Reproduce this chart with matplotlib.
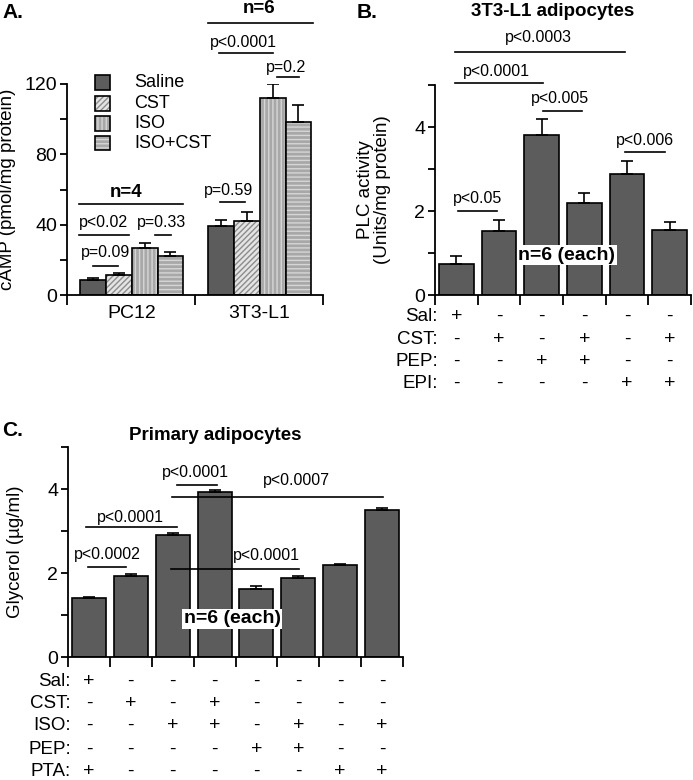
import matplotlib
matplotlib.use("Agg")
import matplotlib.pyplot as plt
from matplotlib.patches import Rectangle
from matplotlib.transforms import blended_transform_factory
import numpy as np

plt.rcParams['font.family'] = ['Liberation Sans', 'DejaVu Sans']

# ---- data ----
a_groups = ['PC12', '3T3-L1']
a_series = ['Saline', 'CST', 'ISO', 'ISO+CST']
a_pc12 = [8.3, 11.2, 26.5, 22.3]
a_pc12_err = [1.2, 1.2, 2.9, 2.1]
a_3t3 = [39.4, 42.2, 112.1, 98.5]
a_3t3_err = [3.4, 5.1, 7.9, 9.5]

b_vals = [0.73, 1.52, 3.81, 2.19, 2.87, 1.55]
b_err = [0.21, 0.26, 0.38, 0.23, 0.33, 0.18]
b_rows = ['Sal:', 'CST:', 'PEP:', 'EPI:']
b_signs = ['+-----', '-+-+-+', '--++--', '----++']

c_vals = [1.40, 1.94, 2.91, 3.93, 1.62, 1.88, 2.20, 3.50]
c_err = [0.03, 0.03, 0.04, 0.04, 0.06, 0.05, 0.02, 0.05]
c_rows = ['Sal:', 'CST:', 'ISO:', 'PEP:', 'PTA:']
c_signs = ['+-------', '-+-+----', '--++-+-+', '----++--', '+-----++']

DARK = '#5c5c5c'
PSIZE = 11.5
W, H = 693, 780
fig = plt.figure(figsize=(W / 100, H / 100), dpi=100)


def fy(py):
    return 1 - py / H


def style_axes(ax):
    for s in ['top', 'right']:
        ax.spines[s].set_visible(False)
    ax.spines['left'].set_linewidth(1.3)
    ax.spines['bottom'].set_linewidth(1.3)
    ax.tick_params(axis='both', direction='out', width=1.3, length=5,
                   labelsize=14, pad=2)
    ax.tick_params(axis='y', which='minor', direction='out', width=1.3, length=5)


def bracket(ax, x0, x1, y, text=None, tx=None, ty=None, size=PSIZE, bold=False):
    ax.plot([x0, x1], [y, y], color='black', lw=1.2, clip_on=False)
    if text:
        ax.text(tx, ty, text, ha='center', va='center', fontsize=size,
                fontweight='bold' if bold else 'normal', clip_on=False)


def hatched_bar(ax, x, h, w, face, hatch, hcol):
    ax.bar(x, h, w, color=face, edgecolor=hcol, hatch=hatch, lw=0)
    ax.bar(x, h, w, color='none', edgecolor='black', lw=1.2)


a_styles = [(DARK, None, None), ('#e4e4e4', '//////', '#8c8c8c'),
            ('#a8a8a8', '||||', '#d6d6d6'), ('#a8a8a8', '----', '#d6d6d6')]

# ---- panel A ----
axA = fig.add_axes([67 / W, fy(295), 256 / W, 211 / H])
style_axes(axA)
axA.set_xlim(0, 9.9)
axA.set_ylim(0, 120)
pos_pc12 = np.arange(1, 5)
pos_3t3 = np.arange(1, 5) + 4.95
for pos, vals, errs in [(pos_pc12, a_pc12, a_pc12_err), (pos_3t3, a_3t3, a_3t3_err)]:
    for i, (x, v, e) in enumerate(zip(pos, vals, errs)):
        face, hatch, hcol = a_styles[i]
        if hatch is None:
            axA.bar(x, v, 1.0, color=face, edgecolor='black', lw=1.2)
        else:
            hatched_bar(axA, x, v, 1.0, face, hatch, hcol)
        axA.errorbar(x, v, yerr=[[0], [e]], color='black', capsize=4, lw=1.2,
                     capthick=1.2)
axA.set_yticks([0, 40, 80, 120])
axA.set_yticks([20, 60, 100], minor=True)
axA.set_xticks([0, 4.95, 9.9])
axA.set_xticklabels([])
axA.tick_params(axis='x', length=7)
for x, g in zip([2.5, 7.45], a_groups):
    axA.text(x, -5.5, g, ha='center', va='top', fontsize=14)
axA.set_ylabel('cAMP (pmol/mg protein)', fontsize=13.5)
axA.yaxis.set_label_coords(-0.2, 0.5)
# legend
for i, name in enumerate(a_series):
    yc = [121, 109, 97.7, 86.4][i]
    face, hatch, hcol = a_styles[i]
    if hatch is None:
        axA.add_patch(Rectangle((1.08, yc - 4.2), 0.58, 8.4, facecolor=face,
                                edgecolor='black', lw=1.2, clip_on=False))
    else:
        axA.add_patch(Rectangle((1.08, yc - 4.2), 0.58, 8.4, facecolor=face,
                                edgecolor=hcol, hatch=hatch, lw=0, clip_on=False))
        axA.add_patch(Rectangle((1.08, yc - 4.2), 0.58, 8.4, facecolor='none',
                                edgecolor='black', lw=1.2, clip_on=False))
    axA.text(2.6, yc, name, ha='left', va='center', fontsize=13)
bracket(axA, 0.46, 4.5, 51.7, 'n=4', 2.3, 58.5, size=13.5, bold=True)
bracket(axA, 0.46, 2.39, 34, 'p<0.02', 1.42, 41.5)
bracket(axA, 3.39, 4.04, 34, 'p=0.33', 3.64, 41.5)
bracket(axA, 1.0, 1.96, 16.3, 'p=0.09', 1.5, 23.9)
bracket(axA, 5.46, 9.5, 154.5, 'n=6', 7.42, 163, size=13.5, bold=True)
bracket(axA, 5.88, 7.96, 137.5, 'p<0.0001', 6.81, 143.7)
bracket(axA, 8.12, 8.96, 124, 'p=0.2', 8.46, 129.5)
bracket(axA, 5.92, 6.89, 53, 'p=0.59', 6.23, 59.7)


def row_table(ax, rows, signs, ys):
    tr = blended_transform_factory(ax.transData, fig.transFigure)
    for r, s, py in zip(rows, signs, ys):
        ax.text(-0.43, fy(py), r, transform=tr, ha='right', va='center',
                fontsize=13.5, clip_on=False)
        for i, ch in enumerate(s):
            ax.text(i, fy(py), ch, transform=tr, ha='center', va='center',
                    fontsize=14, clip_on=False)


def gray_bars(ax, vals, errs):
    x = np.arange(len(vals))
    ax.bar(x, vals, 0.81, color=DARK, edgecolor='black', lw=1.2)
    ax.errorbar(x, vals, yerr=[np.zeros(len(vals)), errs], fmt='none',
                ecolor='black', capsize=4, elinewidth=1.2, capthick=1.2)
    ax.set_xlim(-0.5, len(vals) - 0.5)
    ax.set_xticks(np.arange(len(vals) + 1) - 0.5)
    ax.set_xticklabels([])
    ax.tick_params(axis='x', length=7)
    ax.set_ylim(0, 5)
    ax.set_yticks([0, 2, 4])
    ax.set_yticks([1, 3, 5], minor=True)


# ---- panel B ----
axB = fig.add_axes([435 / W, fy(295), 256 / W, 210 / H])
style_axes(axB)
gray_bars(axB, b_vals, b_err)
axB.set_ylabel('PLC activity\n(Units/mg protein)', fontsize=13.5, linespacing=1.0)
axB.yaxis.set_label_coords(-0.17, 0.5)
fig.text(553 / W, fy(12), '3T3-L1 adipocytes', fontsize=13.5,
         fontweight='bold', ha='center', va='center')
bracket(axB, 0.05, 0.96, 2.0, 'p<0.05', 0.5, 2.29)
bracket(axB, -0.03, 2.04, 5.04, 'p<0.0001', 0.94, 5.33)
bracket(axB, -0.03, 3.95, 5.78, 'p<0.0003', 1.92, 6.12)
bracket(axB, 2.02, 2.94, 4.38, 'p<0.005', 2.44, 4.68)
bracket(axB, 3.95, 4.89, 3.41, 'p<0.006', 4.42, 3.67)
axB.text(2.59, 0.95, 'n=6 (each)', ha='center', va='center', fontsize=14,
         fontweight='bold', bbox=dict(facecolor='white', edgecolor='none', pad=1))
row_table(axB, b_rows, b_signs, [316.7, 339.3, 361, 383.3])

# ---- panel C ----
axC = fig.add_axes([68 / W, fy(657), 335 / W, 210 / H])
style_axes(axC)
gray_bars(axC, c_vals, c_err)
axC.set_ylabel('Glycerol (µg/ml)', fontsize=13.5)
axC.yaxis.set_label_coords(-0.13, 0.5)
fig.text(215 / W, fy(435), 'Primary adipocytes', fontsize=13.5,
         fontweight='bold', ha='center', va='center')
bracket(axC, -0.03, 0.89, 2.14, 'p<0.0002', 0.43, 2.44)
bracket(axC, -0.06, 2.11, 3.09, 'p<0.0001', 0.98, 3.33)
bracket(axC, 2.11, 3.06, 4.09, 'p<0.0001', 2.55, 4.39)
bracket(axC, 1.99, 7.02, 3.80, 'p<0.0007', 4.95, 4.2)
bracket(axC, 1.96, 5.02, 2.10, 'p<0.0001', 4.24, 2.41)
axC.text(3.42, 0.91, 'n=6 (each)', ha='center', va='center', fontsize=14,
         fontweight='bold', bbox=dict(facecolor='white', edgecolor='none', pad=1))
row_table(axC, c_rows, c_signs, [681.7, 703.3, 725.7, 749.3, 771.7])

# panel letters
for x, y, s in [(2, 13, 'A.'), (357, 13, 'B.'), (2, 431, 'C.')]:
    fig.text(x / W, fy(y), s, fontsize=15, fontweight='bold', ha='left', va='center')

fig.savefig('out.png', dpi=100)
